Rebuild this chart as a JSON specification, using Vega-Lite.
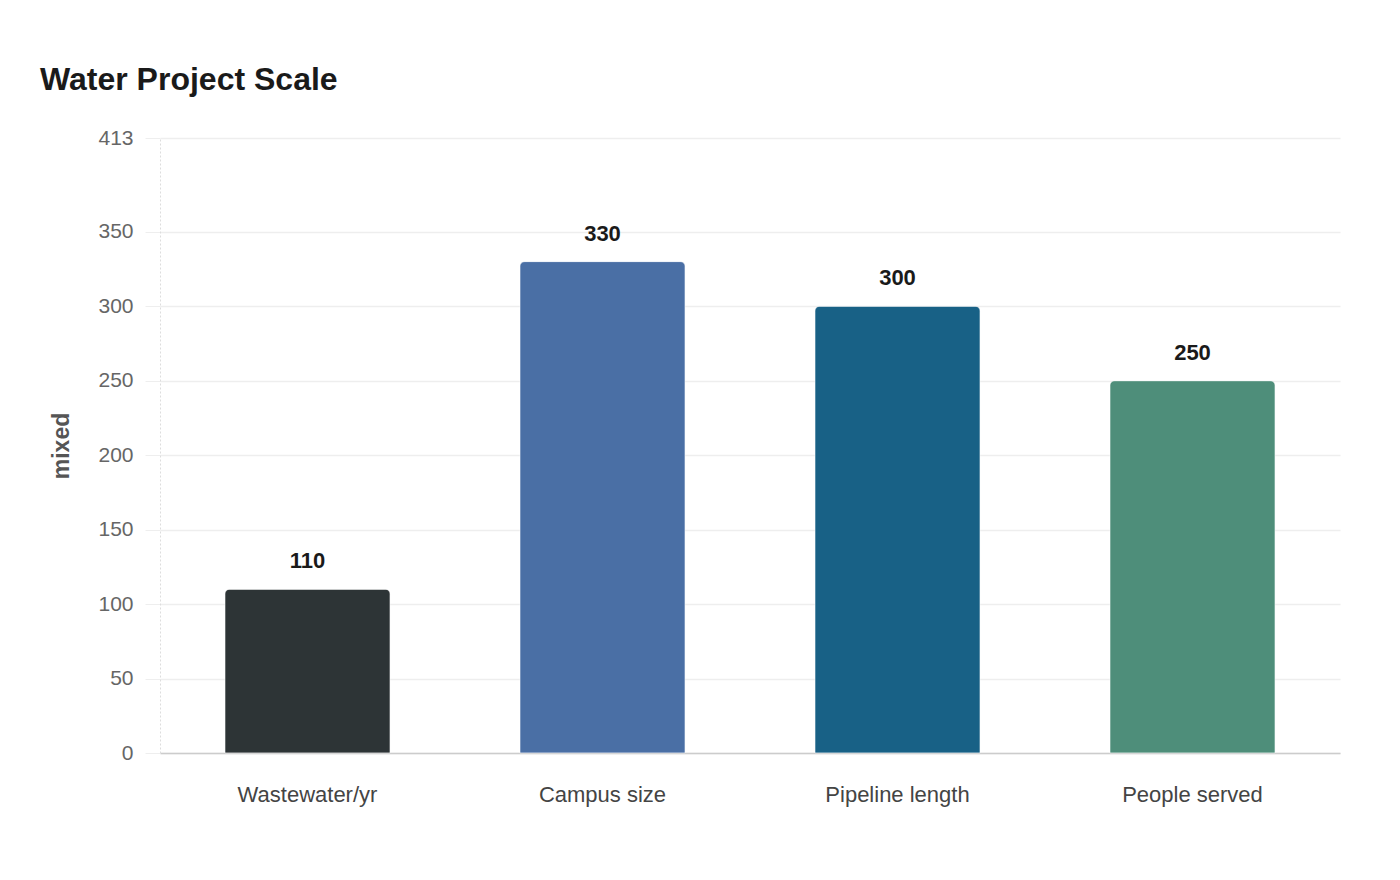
{
  "$schema": "https://vega.github.io/schema/vega-lite/v6.json",
  "autosize": "none",
  "width": 1180,
  "height": 615,
  "padding": {"left": 160, "top": 138, "right": 60, "bottom": 127},
  "background": "#ffffff",
  "title": {
    "text": "Water Project Scale",
    "anchor": "start",
    "frame": "group",
    "dx": -120,
    "offset": 30,
    "fontSize": 32,
    "font": "Liberation Sans",
    "fontWeight": "bold",
    "color": "#1a1a1a"
  },
  "data": {
    "values": [
      {"metric": "Wastewater/yr", "value": 110},
      {"metric": "Campus size", "value": 330},
      {"metric": "Pipeline length", "value": 300},
      {"metric": "People served", "value": 250}
    ]
  },
  "encoding": {
    "x": {
      "field": "metric",
      "type": "nominal",
      "sort": null,
      "scale": {"paddingInner": 0.44, "paddingOuter": 0.22},
      "axis": {
        "title": null,
        "labelAngle": 0,
        "labelFont": "Liberation Sans",
        "labelFontSize": 22,
        "labelColor": "#444444",
        "labelPadding": 31,
        "ticks": false,
        "domainColor": "#cccccc",
        "domainWidth": 1.5
      }
    },
    "y": {
      "field": "value",
      "type": "quantitative",
      "scale": {"domain": [0, 413], "nice": false},
      "axis": {
        "title": "mixed",
        "titleFont": "Liberation Sans",
        "titleFontSize": 23,
        "titleFontWeight": "bold",
        "titleColor": "#555555",
        "titlePadding": 24,
        "values": [0, 50, 100, 150, 200, 250, 300, 350, 413],
        "labelFont": "Liberation Sans",
        "labelFontSize": 21,
        "labelColor": "#666666",
        "labelPadding": 12,
        "tickSize": 15,
        "tickColor": "#eeeeee",
        "gridColor": "#eeeeee",
        "gridWidth": 1.5,
        "domainColor": "#dddddd",
        "domainDash": [2, 2]
      }
    }
  },
  "layer": [
    {
      "mark": {"type": "bar", "cornerRadiusTopLeft": 5, "cornerRadiusTopRight": 5, "stroke": "#ffffff", "strokeOpacity": 0.4, "strokeWidth": 1},
      "encoding": {
        "color": {
          "field": "metric",
          "type": "nominal",
          "sort": null,
          "scale": {
            "domain": ["Wastewater/yr", "Campus size", "Pipeline length", "People served"],
            "range": ["#2d3436", "#4a6fa5", "#186186", "#4e8e7a"]
          },
          "legend": null
        }
      }
    },
    {
      "mark": {"type": "text", "baseline": "middle", "dy": -28, "font": "Liberation Sans", "fontSize": 22, "fontWeight": "bold", "color": "#1a1a1a"},
      "encoding": {"text": {"field": "value", "type": "quantitative"}}
    }
  ],
  "config": {"view": {"stroke": null}}
}
